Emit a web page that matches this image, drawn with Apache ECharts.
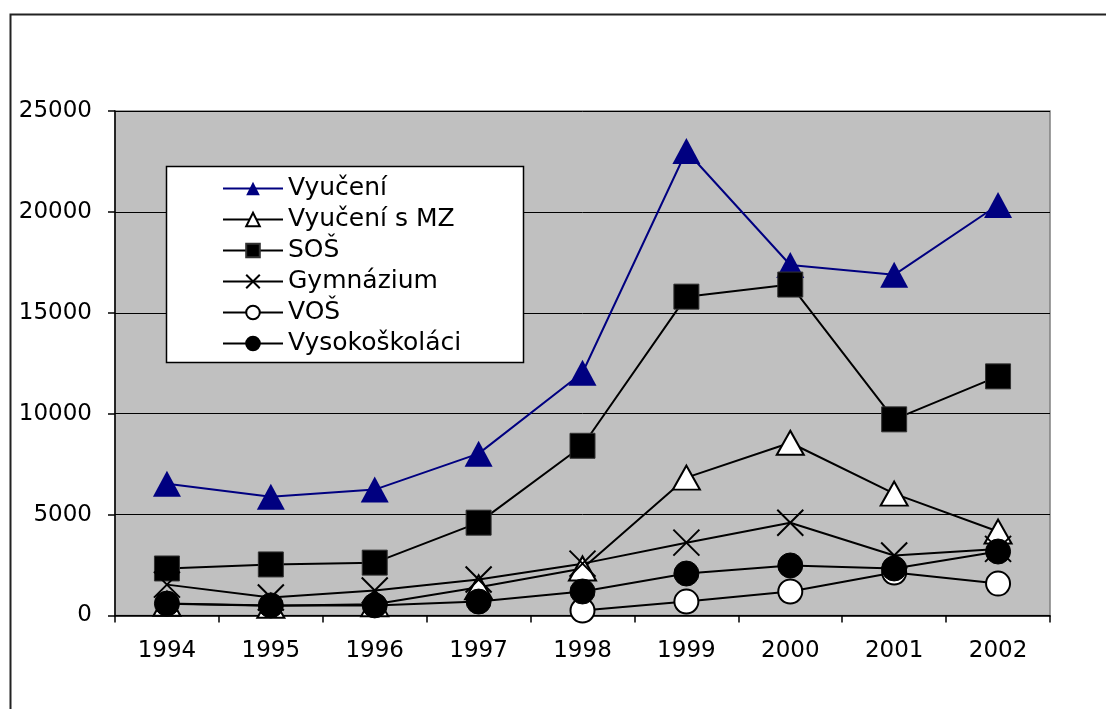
<!DOCTYPE html>
<html>
<head>
<meta charset="utf-8">
<script src="https://cdn.jsdelivr.net/npm/echarts@6/dist/echarts.min.js"></script>
<style>
html,body{margin:0;padding:0;background:#fff;}
#c{width:1106px;height:709px;}
</style>
</head>
<body>
<div id="c"></div>
<script>
var categories = ['1994','1995','1996','1997','1998','1999','2000','2001','2002'];
var vyuceni = [6530, 5890, 6240, 8020, 12030, 23020, 17370, 16880, 20340];
var vyuceniMZ = [580, 480, 560, 1400, 2330, 6830, 8560, 6040, 4160];
var sos = [2330, 2530, 2620, 4600, 8410, 15800, 16400, 9720, 11850];
var gymnazium = [1530, 890, 1240, 1780, 2570, 3610, 4600, 2970, 3300];
var vos = [null, null, null, null, 250, 690, 1190, 2130, 1580];
var vysokoskolaci = [590, 500, 500, 690, 1190, 2080, 2480, 2330, 3170];
var yTicks = [0, 5000, 10000, 15000, 20000, 25000];

var FONT = "'DejaVu Sans', 'Liberation Sans', Arial, sans-serif";
var crossPath = 'path://M0,0L10,10M10,0L0,10';

function mk(name, data, opts) {
  return Object.assign({
    name: name,
    type: 'line',
    data: data,
    connectNulls: false,
    lineStyle: { color: '#000', width: 2 },
    emphasis: { disabled: true },
    animation: false
  }, opts);
}

var chart = echarts.init(document.getElementById('c'), null, { renderer: 'canvas' });
chart.setOption({
  animation: false,
  textStyle: { fontFamily: FONT },
  graphic: [
    { type: 'rect', z: 0, shape: { x: 10.5, y: 14.5, width: 1200, height: 800 },
      style: { fill: 'none', stroke: '#222', lineWidth: 2 } },
    { type: 'rect', z: 3, shape: { x: 166.5, y: 166.5, width: 357, height: 196 },
      style: { fill: '#fff', stroke: '#000', lineWidth: 1.5 } }
  ],
  legend: {
    z: 4,
    orient: 'vertical',
    left: 222,
    top: 175,
    itemWidth: 60,
    itemHeight: 17,
    itemGap: 4,
    padding: 0,
    textStyle: { fontFamily: FONT, fontSize: 25, color: '#000', lineHeight: 27 },
    data: ['Vyučení', 'Vyučení s MZ', 'SOŠ', 'Gymnázium', 'VOŠ', 'Vysokoškoláci']
  },
  grid: {
    left: 115, right: 56, top: 111, bottom: 93.5,
    show: true, backgroundColor: '#C0C0C0', borderColor: '#808080', borderWidth: 1.5
  },
  xAxis: {
    type: 'category',
    data: categories,
    boundaryGap: true,
    axisLine: { show: true, lineStyle: { color: '#000', width: 1.5 } },
    axisTick: { show: true, length: 7, lineStyle: { color: '#000', width: 1.5 } },
    axisLabel: { color: '#000', fontSize: 23, fontFamily: FONT, margin: 24 },
    splitLine: { show: false }
  },
  yAxis: {
    type: 'value',
    min: yTicks[0], max: yTicks[yTicks.length - 1], interval: 5000,
    axisLine: { show: true, lineStyle: { color: '#000', width: 1.5 } },
    axisTick: { show: true, length: 7, lineStyle: { color: '#000', width: 1.5 } },
    axisLabel: { color: '#000', fontSize: 23, fontFamily: FONT, margin: 23,
      formatter: function (v) { return String(v); } },
    splitLine: { show: true, lineStyle: { color: '#000', width: 1 } }
  },
  series: [
    mk('Vyučení', vyuceni, {
      symbol: 'triangle', symbolSize: [28, 26],
      lineStyle: { color: '#000080', width: 2 },
      itemStyle: { color: '#000080', borderColor: '#000080', borderWidth: 0 }
    }),
    mk('Vyučení s MZ', vyuceniMZ, {
      symbol: 'triangle', symbolSize: [27, 24],
      itemStyle: { color: '#fff', borderColor: '#000', borderWidth: 2 }
    }),
    mk('SOŠ', sos, {
      symbol: 'rect', symbolSize: 25,
      itemStyle: { color: '#000', borderColor: '#333', borderWidth: 1 }
    }),
    mk('Gymnázium', gymnazium, {
      symbol: crossPath, symbolSize: 26,
      itemStyle: { color: 'none', borderColor: '#000', borderWidth: 2 }
    }),
    mk('VOŠ', vos, {
      symbol: 'circle', symbolSize: 24,
      itemStyle: { color: '#fff', borderColor: '#000', borderWidth: 2 }
    }),
    mk('Vysokoškoláci', vysokoskolaci, {
      symbol: 'circle', symbolSize: 25,
      itemStyle: { color: '#000', borderColor: '#000', borderWidth: 1 }
    })
  ]
});
</script>
</body>
</html>
